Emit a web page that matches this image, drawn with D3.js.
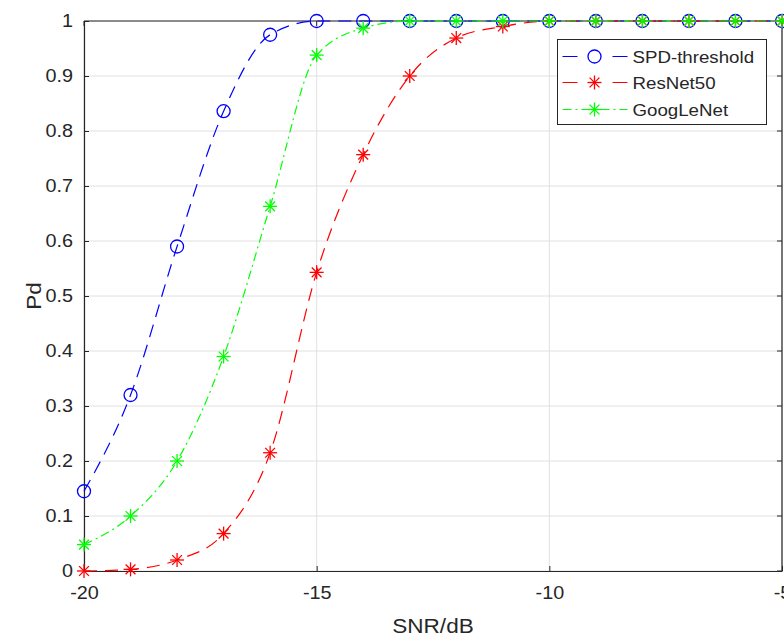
<!DOCTYPE html>
<html>
<head>
<meta charset="utf-8">
<script src="https://cdn.jsdelivr.net/npm/d3@7"></script>
<style>
  html, body { margin: 0; padding: 0; background: #fff; overflow: hidden; }
  svg { display: block; font-family: "Liberation Sans", Arial, Helvetica, sans-serif; }
</style>
</head>
<body>
<svg id="chart" width="784" height="637"></svg>
<script>
// Detection probability versus SNR
const snr = [-20, -19, -18, -17, -16, -15, -14, -13, -12, -11, -10, -9, -8, -7, -6, -5];
const spdThreshold = [0.145, 0.32, 0.59, 0.836, 0.975, 1.0, 1.0, 1.0, 1.0, 1.0, 1.0, 1.0, 1.0, 1.0, 1.0, 1.0];
const resNet50 = [0.0, 0.003, 0.02, 0.068, 0.215, 0.543, 0.757, 0.9, 0.969, 0.99, 1.0, 1.0, 1.0, 1.0, 1.0, 1.0];
const googLeNet = [0.048, 0.1, 0.2, 0.39, 0.663, 0.938, 0.987, 1.0, 1.0, 1.0, 1.0, 1.0, 1.0, 1.0, 1.0, 1.0];
const xTicks = [-20, -15, -10, -5];
const yTicks = [0, 0.1, 0.2, 0.3, 0.4, 0.5, 0.6, 0.7, 0.8, 0.9, 1];
const seriesNames = ["SPD-threshold", "ResNet50", "GoogLeNet"];

const series = [
  { name: seriesNames[0], values: spdThreshold, color: "#0000ff", dash: "13,8", legendDash: "15,35", marker: "circle" },
  { name: seriesNames[1], values: resNet50, color: "#ff0000", dash: "13,8", legendDash: "15,35", marker: "asterisk" },
  { name: seriesNames[2], values: googLeNet, color: "#00ff00", dash: "9,4,2,4", legendDash: "9,4,2,4", marker: "asterisk" }
];

const svg = d3.select("#chart");
const plotLeft = 84, plotRight = 782, plotTop = 21, plotBottom = 571;
const textColor = "#262626";
const stretch = "scale(1.1,1)";

const x = d3.scaleLinear().domain([-20, -5]).range([plotLeft, plotRight]);
const y = d3.scaleLinear().domain([0, 1]).range([plotBottom, plotTop]);

// grid
const grid = svg.append("g");
grid.selectAll("line.gx").data(xTicks).enter().append("line")
  .attr("x1", d => x(d)).attr("x2", d => x(d))
  .attr("y1", plotTop).attr("y2", plotBottom)
  .attr("stroke", "#e0e0e0").attr("stroke-width", 1);
grid.selectAll("line.gy").data(yTicks).enter().append("line")
  .attr("x1", plotLeft).attr("x2", plotRight)
  .attr("y1", d => y(d)).attr("y2", d => y(d))
  .attr("stroke", "#e0e0e0").attr("stroke-width", 1);

// axes
const xAxis = d3.axisBottom(x).tickValues(xTicks).tickFormat(d => String(d)).tickSizeInner(-5).tickSizeOuter(0).tickPadding(15);
const yAxis = d3.axisLeft(y).tickValues(yTicks).tickFormat(d => d === 0 || d === 1 ? String(d) : d3.format(".1f")(d)).tickSizeInner(-5).tickSizeOuter(0).tickPadding(10);

const gx = svg.append("g").attr("transform", `translate(0,${plotBottom})`).call(xAxis);
const gy = svg.append("g").attr("transform", `translate(${plotLeft},0)`).call(yAxis);
[gx, gy].forEach(g => {
  g.selectAll("path").attr("stroke", textColor).attr("stroke-width", 1.2);
  g.selectAll("line").attr("stroke", textColor);
  g.selectAll("text").attr("fill", textColor).attr("font-size", 18).attr("transform", stretch);
});

// mirrored ticks on top and right edges
const mirror = svg.append("g");
mirror.selectAll("line.tx").data(xTicks).enter().append("line")
  .attr("x1", d => x(d)).attr("x2", d => x(d)).attr("y1", plotTop).attr("y2", plotTop + 5)
  .attr("stroke", textColor);
mirror.selectAll("line.ty").data(yTicks).enter().append("line")
  .attr("x1", plotRight - 5).attr("x2", plotRight).attr("y1", d => y(d)).attr("y2", d => y(d))
  .attr("stroke", textColor);
svg.append("line").attr("x1", plotLeft).attr("x2", plotRight).attr("y1", plotTop).attr("y2", plotTop)
  .attr("stroke", textColor).attr("stroke-width", 1.2);
svg.append("line").attr("x1", plotRight).attr("x2", plotRight).attr("y1", plotTop).attr("y2", plotBottom)
  .attr("stroke", textColor).attr("stroke-width", 1.2);

// axis titles
svg.append("text")
  .attr("transform", `translate(${(plotLeft + plotRight) / 2},633) ${stretch}`)
  .attr("text-anchor", "middle").attr("fill", textColor).attr("font-size", 20.5).text("SNR/dB");
svg.append("text").attr("transform", `translate(41,${(plotTop + plotBottom) / 2}) rotate(-90) ${stretch}`)
  .attr("text-anchor", "middle").attr("fill", textColor).attr("font-size", 20.5).text("Pd");

// markers
function drawMarker(g, type, cx, cy, color) {
  if (type === "circle") {
    g.append("circle").attr("cx", cx).attr("cy", cy).attr("r", 6.5)
      .attr("fill", "none").attr("stroke", color).attr("stroke-width", 1.3);
  } else {
    const r = 7;
    const p = [[-r, 0, r, 0], [0, -r, 0, r], [-r * 0.7, -r * 0.7, r * 0.7, r * 0.7], [-r * 0.7, r * 0.7, r * 0.7, -r * 0.7]];
    p.forEach(s => g.append("line")
      .attr("x1", cx + s[0]).attr("y1", cy + s[1]).attr("x2", cx + s[2]).attr("y2", cy + s[3])
      .attr("stroke", color).attr("stroke-width", 1.3));
  }
}

const line = d3.line().x(d => x(d[0])).y(d => y(d[1])).curve(d3.curveMonotoneX);

series.forEach(s => {
  const g = svg.append("g");
  const pts = snr.map((v, i) => [v, s.values[i]]);
  g.append("path").attr("d", line(pts)).attr("fill", "none")
    .attr("stroke", s.color).attr("stroke-width", 1.2).attr("stroke-dasharray", s.dash);
  pts.forEach(p => drawMarker(g, s.marker, x(p[0]), y(p[1]), s.color));
});

// legend
const lg = svg.append("g");
const lx = 557.5, ly = 39.5, lw = 209, lh = 85;
lg.append("rect").attr("x", lx).attr("y", ly).attr("width", lw).attr("height", lh)
  .attr("fill", "#fff").attr("stroke", textColor).attr("stroke-width", 1);
series.forEach((s, i) => {
  const cy = Math.round(ly + 16 + i * 26.5) + 0.5;
  lg.append("line").attr("x1", lx + 5).attr("x2", lx + 70).attr("y1", cy).attr("y2", cy)
    .attr("stroke", s.color).attr("stroke-width", 1.2)
    .attr("stroke-dasharray", s.legendDash);
  drawMarker(lg, s.marker, lx + 37, cy, s.color);
  lg.append("text").attr("transform", `translate(${lx + 75},${cy + 6.5}) ${stretch}`)
    .attr("fill", textColor).attr("font-size", 17).text(s.name);
});
</script>
</body>
</html>
